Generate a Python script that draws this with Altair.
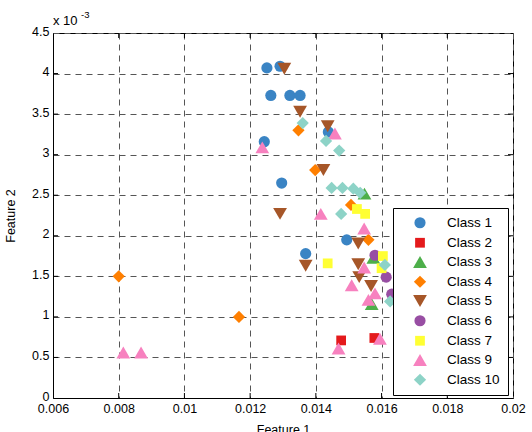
import altair as alt
import pandas as pd

classes = ["Class 1", "Class 2", "Class 3", "Class 4", "Class 5",
           "Class 6", "Class 7", "Class 9", "Class 10"]
colors = ["#3a84c4", "#e41a1c", "#4daf4a", "#ff7f00", "#a65628",
          "#984ea3", "#ffff33", "#f781bf", "#8dd3c7"]
shapes = ["circle", "square", "triangle-up", "diamond", "triangle-down",
          "circle", "square", "triangle-up", "diamond"]
sizes = [125, 95, 190, 150, 190, 125, 95, 190, 150]

c1_x = [0.01251, 0.01291, 0.01263, 0.01321, 0.01352, 0.01438, 0.01243, 0.01296, 0.01494, 0.01369]
c1_y = [4.07, 4.09, 3.73, 3.73, 3.73, 3.28, 3.16, 2.65, 1.95, 1.78]
c2_x = [0.01477, 0.01578]
c2_y = [0.71, 0.74]
c3_x = [0.01548, 0.01575, 0.01570]
c3_y = [2.52, 1.73, 1.16]
c4_x = [0.01347, 0.01398, 0.01507, 0.01560, 0.00800, 0.01166]
c4_y = [3.30, 2.81, 2.38, 1.95, 1.50, 1.00]
c5_x = [0.01304, 0.01352, 0.01436, 0.01423, 0.01291, 0.01529, 0.01369, 0.01529, 0.01532, 0.01568]
c5_y = [4.06, 3.53, 3.35, 2.81, 2.27, 1.905, 1.63, 1.65, 1.49, 1.38]
c6_x = [0.01580, 0.01614, 0.01631]
c6_y = [1.76, 1.49, 1.28]
c7_x = [0.01525, 0.01550, 0.01436, 0.01604, 0.01600]
c7_y = [2.33, 2.27, 1.66, 1.75, 1.60]
c9_x = [0.01458, 0.01237, 0.01415, 0.01547, 0.01547, 0.01509, 0.01580, 0.01560, 0.01469, 0.01595, 0.00814, 0.00868]
c9_y = [3.26, 3.09, 2.27, 2.09, 1.61, 1.39, 1.29, 1.21, 0.61, 0.73, 0.56, 0.56]
c10_x = [0.01360, 0.01431, 0.01471, 0.01448, 0.01481, 0.01514, 0.01535, 0.01477, 0.01610, 0.01626]
c10_y = [3.39, 3.17, 3.05, 2.59, 2.59, 2.58, 2.53, 2.27, 1.64, 1.19]

x_ticks = [0.006, 0.008, 0.010, 0.012, 0.014, 0.016, 0.018, 0.020]
y_ticks = [0, 0.5, 1, 1.5, 2, 2.5, 3, 3.5, 4, 4.5]

xs = [c1_x, c2_x, c3_x, c4_x, c5_x, c6_x, c7_x, c9_x, c10_x]
ys = [c1_y, c2_y, c3_y, c4_y, c5_y, c6_y, c7_y, c9_y, c10_y]

rows = []
for i, (cx, cy) in enumerate(zip(xs, ys)):
    for a, b in zip(cx, cy):
        rows.append({"f1": a, "f2": b, "cls": classes[i], "order": i})
df = pd.DataFrame(rows)

W, H = 460, 365
FONT = "Liberation Sans"

xscale = alt.Scale(domain=[0.006, 0.02], nice=False, zero=False)
yscale = alt.Scale(domain=[0, 4.5], nice=False, zero=False)

xaxis = alt.Axis(values=x_ticks,
                 labelExpr="datum.value == 0.01 ? '0.01' : datum.value == 0.02 ? '0.02' : format(datum.value, '.3f')",
                 grid=True, gridDash=[6, 5], gridColor="#555555", gridWidth=1,
                 tickSize=0, labelPadding=4, labelFontSize=12.5, labelFont=FONT,
                 labelColor="black", title="Feature 1", titleFont=FONT,
                 titleFontSize=12.5, titleFontWeight="normal", titlePadding=9,
                 titleColor="black", domainColor="black", labelFlush=False)
yaxis = alt.Axis(values=y_ticks, format="~g", grid=True, gridDash=[6, 5],
                 gridColor="#555555",
                 gridWidth=1, tickSize=0, labelPadding=4, labelFontSize=12.5,
                 labelOffset=-2,
                 labelFont=FONT, labelColor="black", title="Feature 2",
                 titleFont=FONT, titleFontSize=12.5, titleFontWeight="normal",
                 titlePadding=14, titleColor="black", domainColor="black")

points = alt.Chart(df).mark_point(filled=True, opacity=1, strokeWidth=0.8).encode(
    x=alt.X("f1:Q", scale=xscale, axis=xaxis),
    y=alt.Y("f2:Q", scale=yscale, axis=yaxis),
    color=alt.Color("cls:N", scale=alt.Scale(domain=classes, range=colors),
                    legend=alt.Legend(title=None, orient="none", legendX=340, legendY=175,
                                      strokeColor="black", fillColor="white",
                                      padding=8, symbolOffset=12, labelOffset=20,
                                      rowPadding=5, labelFontSize=13.5, labelFont=FONT,
                                      labelColor="black", symbolStrokeWidth=0,
                                      cornerRadius=0)),
    shape=alt.Shape("cls:N", scale=alt.Scale(domain=classes, range=shapes)),
    size=alt.Size("cls:N", scale=alt.Scale(type="ordinal", domain=classes, range=sizes)),
    order=alt.Order("order:Q"),
)

xt = pd.DataFrame({"v": x_ticks[1:-1]})
yt = pd.DataFrame({"v": y_ticks[1:-1]})
tick_b = alt.Chart(xt).mark_rule(color="black", strokeWidth=1).encode(
    x=alt.X("v:Q", scale=xscale), y=alt.value(H), y2=alt.value(H - 5))
tick_t = alt.Chart(xt).mark_rule(color="black", strokeWidth=1).encode(
    x=alt.X("v:Q", scale=xscale), y=alt.value(0), y2=alt.value(5))
tick_l = alt.Chart(yt).mark_rule(color="black", strokeWidth=1).encode(
    y=alt.Y("v:Q", scale=yscale), x=alt.value(0), x2=alt.value(5))
tick_r = alt.Chart(yt).mark_rule(color="black", strokeWidth=1).encode(
    y=alt.Y("v:Q", scale=yscale), x=alt.value(W), x2=alt.value(W - 5))

exp_base = alt.Chart(pd.DataFrame({"t": ["x 10"]})).mark_text(
    font=FONT, fontSize=13, align="left", baseline="middle", color="black").encode(
    text="t:N", x=alt.value(0), y=alt.value(-12))
exp_sup = alt.Chart(pd.DataFrame({"t": ["-3"]})).mark_text(
    font=FONT, fontSize=9.5, align="left", baseline="middle", color="black").encode(
    text="t:N", x=alt.value(28), y=alt.value(-18))

chart = alt.layer(tick_b, tick_t, tick_l, tick_r, points, exp_base, exp_sup).properties(
    width=W, height=H,
    autosize=alt.AutoSizeParams(type="none"),
    padding={"left": 53, "top": 33, "right": 19, "bottom": 34},
    background="white",
).configure_view(stroke="black", strokeWidth=1)

chart.save("out.html", embed_options={"renderer": "svg", "actions": False})
